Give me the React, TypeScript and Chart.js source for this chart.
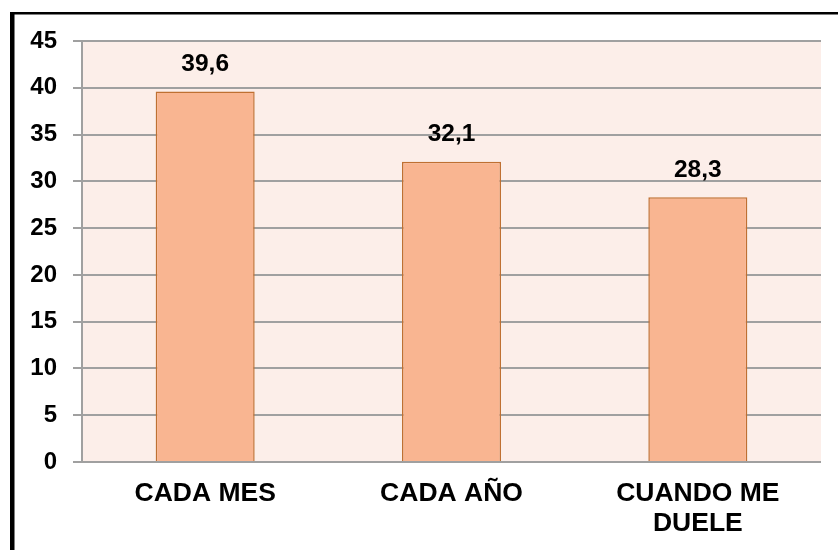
import React, { useEffect, useRef } from "react";
import { Chart, registerables } from "chart.js";

Chart.register(...registerables);

const categories: (string | string[])[] = ["CADA MES", "CADA AÑO", ["CUANDO ME", "DUELE"]];
const values: number[] = [39.6, 32.1, 28.3];
const yTicks = { min: 0, max: 45, step: 5 };

const FONT = "Arial, 'Liberation Sans', sans-serif";

const framePlugin = {
  id: "frame",
  beforeDraw(chart: any) {
    const { ctx, chartArea } = chart;
    ctx.save();
    ctx.fillStyle = "#ffffff";
    ctx.fillRect(0, 0, chart.width, chart.height);
    ctx.fillStyle = "#FCEEE9";
    ctx.fillRect(chartArea.left, chartArea.top, chartArea.right - chartArea.left, chartArea.bottom - chartArea.top);
    ctx.fillStyle = "#000000";
    ctx.fillRect(10, 12, chart.width - 10, 2.5);
    ctx.fillRect(10, 12, 4.5, chart.height - 12);
    ctx.restore();
  },
};

const labelPlugin = {
  id: "valueLabels",
  afterDatasetsDraw(chart: any) {
    const { ctx } = chart;
    const meta = chart.getDatasetMeta(0);
    ctx.save();
    ctx.font = `bold 24.5px ${FONT}`;
    ctx.fillStyle = "#000000";
    ctx.textAlign = "center";
    ctx.textBaseline = "middle";
    meta.data.forEach((bar: any, i: number) => {
      const txt = values[i].toFixed(1).replace(".", ",");
      ctx.fillText(txt, bar.x, bar.y - 27);
    });
    ctx.restore();
  },
};

export default function App() {
  const ref = useRef<HTMLCanvasElement>(null);
  useEffect(() => {
    document.body.style.margin = "0";
    const chart = new Chart(ref.current!, {
      type: "bar",
      data: {
        labels: categories,
        datasets: [
          {
            data: values,
            backgroundColor: "#F9B591",
            borderColor: "#BF7032",
            borderWidth: 1.5,
            categoryPercentage: 1,
            barPercentage: 0.402,
          },
        ],
      },
      options: {
        animation: false,
        responsive: false,
        devicePixelRatio: 1,
        layout: { padding: { top: 41, right: 17, left: 0, bottom: 0 } },
        plugins: { legend: { display: false }, tooltip: { enabled: false } },
        scales: {
          x: {
            grid: { display: false, drawTicks: false },
            border: { display: false },
            ticks: {
              color: "#000000",
              padding: 17,
              maxRotation: 0,
              autoSkip: false,
              font: { family: FONT, size: 26.5, weight: "bold", lineHeight: 1.132 },
            },
            afterFit: (s: any) => {
              s.height = 88;
            },
          },
          y: {
            min: yTicks.min,
            max: yTicks.max,
            grid: { color: "#A0A0A0", lineWidth: 2, tickLength: 9, drawTicks: true },
            border: { display: true, color: "#A0A0A0", width: 2 },
            ticks: {
              stepSize: yTicks.step,
              color: "#000000",
              padding: 16,
              font: { family: FONT, size: 24, weight: "bold" },
            },
            afterFit: (s: any) => {
              s.width = 82;
            },
          },
        },
      },
      plugins: [framePlugin, labelPlugin],
    });
    return () => chart.destroy();
  }, []);
  return (
    <div style={{ position: "absolute", left: 0, top: 0, width: 838, height: 550 }}>
      <canvas ref={ref} width={838} height={550} style={{ width: 838, height: 550, display: "block" }} />
    </div>
  );
}
